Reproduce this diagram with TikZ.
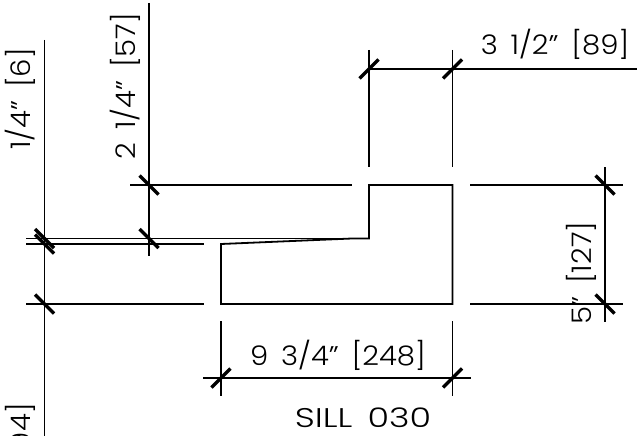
\documentclass[tikz,border=0pt]{standalone}
\usepackage{fontspec}
\setmainfont{Poppins}[UprightFont=*-Light,WordSpace=1.6,FakeStretch=1.08]
\usetikzlibrary{calc}
\tikzset{
 dimline/.style={line width=1.7pt},
 obj/.style={line width=1.8pt},
 tickmark/.style={line width=3.4pt},
 dimtext/.style={inner sep=0pt,font=\fontsize{27}{29}\selectfont,text=black},
}
\newcommand{\tickback}[1]{\draw[tickmark] ($(#1)+(-9.5,-9.5)$) -- ($(#1)+(9.5,9.5)$);}
\newcommand{\tickfwd}[1]{\draw[tickmark] ($(#1)+(-9.5,9.5)$) -- ($(#1)+(9.5,-9.5)$);}
\begin{document}
\begin{tikzpicture}[x=1pt,y=-1pt]
\useasboundingbox (0,0) rectangle (637,436);
\clip (0,0) rectangle (637,436);
% tick anchor points
\coordinate (la) at (44.5,238.5);
\coordinate (lb) at (44.5,244);
\coordinate (lc) at (44.5,304);
\coordinate (ma) at (149,185);
\coordinate (mb) at (149,238.5);
\coordinate (ra) at (605,185);
\coordinate (rb) at (605,304);
\coordinate (ta) at (369,69);
\coordinate (tb) at (452.5,69);
\coordinate (ba) at (221,378);
\coordinate (bb) at (452.5,378);
% section outline
\draw[obj] (221,244) -- (221,304) -- (452.5,304) -- (452.5,185) -- (369,185) -- (369,238.5) -- (352,238.5) -- cycle;
% extension and dimension lines
\draw[dimline] (44.5,40) -- (44.5,436);
\draw[dimline] (149,3) -- (149,256);
\draw[dimline] (605,167) -- (605,322);
\draw[dimline] (369,50) -- (369,167);
\draw[dimline] (452.5,50) -- (452.5,167);
\draw[dimline] (369,69) -- (637,69);
\draw[dimline] (221,321) -- (221,396);
\draw[dimline] (452.5,321) -- (452.5,396);
\draw[dimline] (203,378) -- (471,378);
\draw[dimline] (130,185) -- (352,185);
\draw[dimline] (470,185) -- (623,185);
\draw[dimline] (26,238.5) -- (352,238.5);
\draw[dimline] (26,244) -- (204,244);
\draw[dimline] (26,304) -- (204,304);
\draw[dimline] (470,304) -- (623,304);
% ticks
\tickback{la}\tickback{lb}\tickback{lc}\tickback{ma}\tickback{mb}\tickback{ra}\tickback{rb}
\tickfwd{ta}\tickfwd{tb}\tickfwd{ba}\tickfwd{bb}
% labels
\node[dimtext] (t1) at (555,44) {3 1/2" [89]};
\node[dimtext,rotate=90] (t2) at (20,99) {1/4" [6]};
\node[dimtext,rotate=90] (t3) at (125,86) {2 1/4" [57]};
\node[dimtext,rotate=90] (t4) at (581,273) {5" [127]};
\node[dimtext] (t5) at (338,355) {9 3/4" [248]};
\node[dimtext,xscale=1.2,transform shape] (t6) at (363,418) {SILL 030};
\node[dimtext,rotate=90,anchor=east] (t7) at (20,403) {3 3/4" [94]};
\end{tikzpicture}
\end{document}
